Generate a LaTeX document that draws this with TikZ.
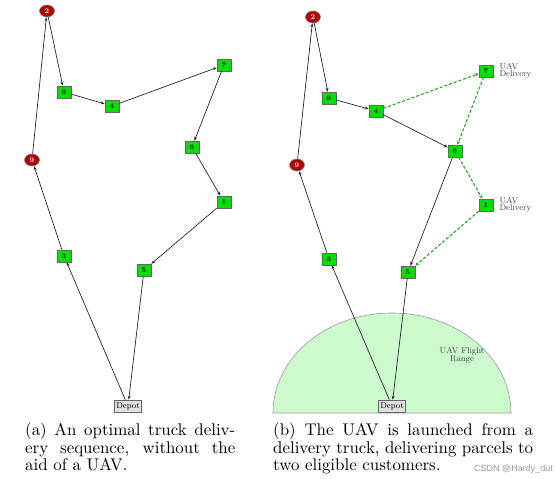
\documentclass[tikz,border=0pt]{standalone}
\usepackage{fontspec}
\newfontfamily\wmfont{Liberation Sans}
\usetikzlibrary{shapes.geometric,arrows.meta}
\definecolor{custgreen}{RGB}{0,224,0}
\definecolor{uavred}{RGB}{176,0,0}
\definecolor{rangefill}{RGB}{204,250,204}
\definecolor{uavline}{RGB}{30,170,30}
\tikzset{
  cust/.style={rectangle,fill=custgreen,draw=black!60,line width=0.6pt,minimum width=14pt,minimum height=12pt,inner sep=0pt,font=\fontsize{7}{7}\selectfont\bfseries},
  uavn/.style={ellipse,fill=uavred,draw=black!50,line width=0.6pt,minimum width=15pt,minimum height=12pt,inner sep=0pt,text=white,font=\fontsize{7}{7}\selectfont\bfseries},
  depot/.style={rectangle,fill=black!12,draw=black!60,line width=0.6pt,minimum width=27pt,minimum height=12pt,inner sep=0pt,font=\fontsize{8.5}{8.5}\selectfont},
  truck/.style={draw=black!85,line width=0.7pt,-{Stealth[length=4pt,width=3pt]}},
  uavarc/.style={draw=uavline,line width=1.1pt,dash pattern=on 3pt off 2pt,-{Stealth[length=4pt,width=3.5pt]}},
  note/.style={text=black!75,align=left,inner sep=0pt,font=\fontsize{8.5}{7.5}\selectfont},
  capt/.style={anchor=base west,inner sep=0pt}
}
\newcommand{\captbox}[2]{\scalebox{1.69}{\parbox[t]{#1}{\fontsize{10}{10.65}\selectfont\justifying #2}}}
\newcommand{\justifying}{\rightskip=0pt\leftskip=0pt\parfillskip=0pt plus 1fil}
\begin{document}
\begin{tikzpicture}[x=1pt,y=-1pt]
\useasboundingbox (0,0) rectangle (555,479);
% flight range (right panel)
\draw[fill=rangefill,draw=black!40,line width=0.6pt] (273,413) arc[start angle=180,end angle=360,x radius=119,y radius=100] -- cycle;
\node[note,align=center,font=\fontsize{8.5}{8}\selectfont] (range) at (462,355) {UAV Flight\\Range};

% ---------- left panel ----------
\node[uavn] (a2) at (47,11) {2};
\node[cust] (a8) at (64,92) {8};
\node[cust] (a4) at (112,106) {4};
\node[cust] (a7) at (224,65) {7};
\node[cust] (a6) at (192,147) {6};
\node[cust] (a1) at (224,202) {1};
\node[uavn] (a9) at (32,160) {9};
\node[cust] (a3) at (64,256) {3};
\node[cust] (a5) at (144,270) {5};
\node[depot] (ad) at (128,406) {Depot};
\draw[truck] (ad) -- (a3);
\draw[truck] (a3) -- (a9);
\draw[truck] (a9) -- (a2);
\draw[truck] (a2) -- (a8);
\draw[truck] (a8) -- (a4);
\draw[truck] (a4) -- (a7);
\draw[truck] (a7) -- (a6);
\draw[truck] (a6) -- (a1);
\draw[truck] (a1) -- (a5);
\draw[truck] (a5) -- (ad);

% ---------- right panel ----------
\node[uavn] (b2) at (313,17) {2};
\node[cust] (b8) at (329,98) {8};
\node[cust] (b4) at (376,111) {4};
\node[cust] (b7) at (486,71) {7};
\node[cust] (b6) at (455,151) {6};
\node[cust] (b1) at (486,205) {1};
\node[uavn] (b9) at (297,165) {9};
\node[cust] (b3) at (329,259) {3};
\node[cust] (b5) at (408,272) {5};
\node[depot] (bd) at (392,406) {Depot};
\node[note,anchor=west] (l7) at ([xshift=6pt]b7.east) {UAV\\Delivery};
\node[note,anchor=west] (l1) at ([xshift=6pt]b1.east) {UAV\\Delivery};
\draw[truck] (bd) -- (b3);
\draw[truck] (b3) -- (b9);
\draw[truck] (b9) -- (b2);
\draw[truck] (b2) -- (b8);
\draw[truck] (b8) -- (b4);
\draw[truck] (b4) -- (b6);
\draw[truck] (b6) -- (b5);
\draw[truck] (b5) -- (bd);
\draw[uavarc] (b4) -- (b7);
\draw[uavarc] (b7) -- (b6);
\draw[uavarc] (b6) -- (b1);
\draw[uavarc] (b1) -- (b5);

% ---------- captions ----------
\node[capt] (capa) at (25,435) {\captbox{124.3pt}{(a) An optimal truck deliv-\linebreak ery sequence, without the\linebreak aid of a UAV.}};
\node[capt] (capb) at (273,435) {\captbox{153.8pt}{(b) The UAV is launched from a\linebreak delivery truck, delivering parcels to\linebreak two eligible customers.}};
\node[anchor=base east,inner sep=0pt,text=black!40,font=\wmfont\fontsize{9}{9}\selectfont] (wm) at (553,471) {CSDN @Hardy\_dut};
\end{tikzpicture}
\end{document}
